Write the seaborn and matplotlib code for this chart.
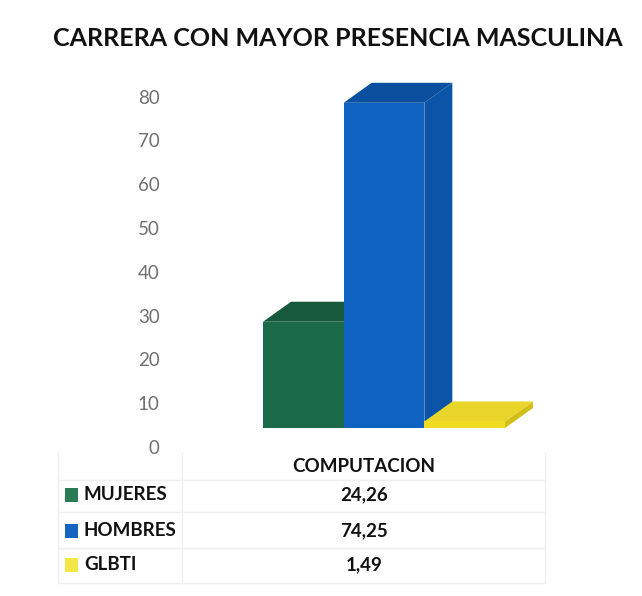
import matplotlib
matplotlib.use("Agg")
import matplotlib.pyplot as plt
import seaborn as sns
import pandas as pd
from matplotlib.patches import Polygon, Rectangle
from matplotlib.transforms import ScaledTranslation
from matplotlib.lines import Line2D

# ---- data ----
carrera = ["COMPUTACION"]
grupos = ["MUJERES", "HOMBRES", "GLBTI"]
valores = [24.26, 74.25, 1.49]
valores_txt = ["24,26", "74,25", "1,49"]
yticks = [0, 10, 20, 30, 40, 50, 60, 70, 80]
titulo = "CARRERA CON MAYOR PRESENCIA MASCULINA"

front_cols = ["#1B6A49", "#0F62C0", "#F0DC22"]
top_cols = ["#17593D", "#0B4F9F", "#EAD52A"]
side_cols = ["#145036", "#0B55A8", "#D2BF18"]
legend_cols = ["#2A7A55", "#1565C0", "#F3E748"]

sns.set_theme(style="white")
plt.rcParams["font.family"] = ["Lato", "DejaVu Sans"]

W, H = 642, 596
fig = plt.figure(figsize=(W / 100, H / 100), dpi=100)
fig.patch.set_facecolor("white")

left_px, right_px = 172, 560
bot_px, top_px = 428, 77.6
ax = fig.add_axes([left_px / W, 1 - bot_px / H, (right_px - left_px) / W, (bot_px - top_px) / H])

df = pd.DataFrame({"carrera": carrera * len(grupos), "grupo": grupos, "valor": valores})
sns.barplot(data=df, x="carrera", y="valor", hue="grupo", hue_order=grupos,
            palette=front_cols, saturation=1, width=0.8, legend=False, ax=ax,
            edgecolor="none", linewidth=0)

ax.set_xlim(-0.7008, 0.5818)
ax.set_ylim(0, 80)
ax.set_yticks(yticks)
ax.set_yticklabels([str(t) for t in yticks], color="#707070", fontsize=13.5)
ax.tick_params(axis="y", length=0, pad=9)
ax.set_xticks([])
ax.set_xlabel("")
ax.set_ylabel("")
for s in ax.spines.values():
    s.set_visible(False)
ax.patch.set_alpha(0)
# shift tick labels down to mimic the 3D back wall
off = ScaledTranslation(0, -19 / 100, fig.dpi_scale_trans)
for lab in ax.get_yticklabels():
    lab.set_transform(lab.get_transform() + off)

# 3D depth faces derived from bar patches
px_per_x = (right_px - left_px) / (0.5818 + 0.7008)
px_per_y = (bot_px - top_px) / 80
dx = 28 / px_per_x
dy = 20 / px_per_y
bars = sorted(ax.patches, key=lambda p: p.get_x())
z = 3
for i, p in enumerate(bars):
    x0 = p.get_x(); x1 = x0 + p.get_width(); y1 = p.get_height()
    side = Polygon([(x1, 0), (x1 + dx, dy), (x1 + dx, y1 + dy), (x1, y1)],
                   closed=True, facecolor=side_cols[i], edgecolor="none", clip_on=False, zorder=z)
    top = Polygon([(x0, y1), (x1, y1), (x1 + dx, y1 + dy), (x0 + dx, y1 + dy)],
                  closed=True, facecolor=top_cols[i], edgecolor="none", clip_on=False, zorder=z)
    ax.add_patch(side); ax.add_patch(top)
    p.set_zorder(z + 0.5)
    z += 1

# title
fig.text(338 / W, 1 - 38 / H, titulo, ha="center", va="center",
         fontsize=18, fontweight="bold", color="#111111")

# data table
fig.text(364 / W, 1 - 466 / H, carrera[0], ha="center", va="center",
         fontsize=13.5, fontweight="bold", color="#111111")
row_y = [495, 531, 565]
for i, g in enumerate(grupos):
    y = 1 - row_y[i] / H
    fig.patches.append(Rectangle((65 / W, y - 7 / H), 13 / W, 14 / H,
                                 transform=fig.transFigure, facecolor=legend_cols[i],
                                 edgecolor="none"))
    fig.text(84 / W, y, g, ha="left", va="center", fontsize=13.5,
             fontweight="bold", color="#111111")
    fig.text(364 / W, y, valores_txt[i], ha="center", va="center", fontsize=13.5,
             fontweight="bold", color="#111111")

grid_c = "#efefef"
for yy in [480, 512, 548, 583]:
    fig.add_artist(Line2D([58 / W, 545 / W], [1 - yy / H, 1 - yy / H],
                          transform=fig.transFigure, color=grid_c, lw=1))
for xx in [58, 182, 545]:
    fig.add_artist(Line2D([xx / W, xx / W], [1 - 452 / H, 1 - 583 / H],
                          transform=fig.transFigure, color=grid_c, lw=1))

fig.savefig("out.png", dpi=100, facecolor="white")
